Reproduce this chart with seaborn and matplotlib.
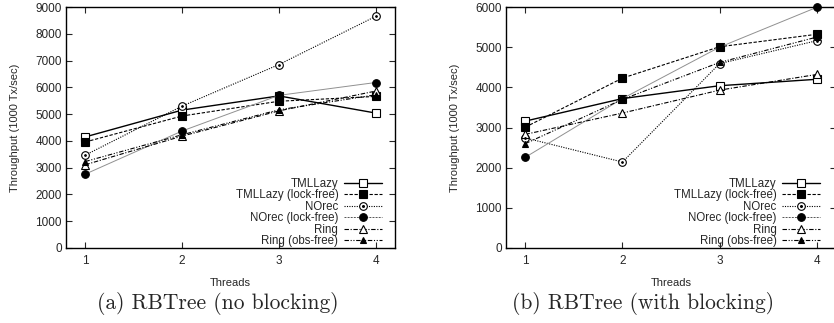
import matplotlib
matplotlib.use("Agg")
import matplotlib.pyplot as plt
import seaborn as sns
import pandas as pd
from matplotlib.legend_handler import HandlerTuple
from matplotlib.lines import Line2D

threads = [1, 2, 3, 4]
series_names = ["TMLLazy", "TMLLazy (lock-free)", "NOrec", "NOrec (lock-free)", "Ring", "Ring (obs-free)"]

# (a) RBTree (no blocking)
a_tmllazy = [4150, 5150, 5680, 5040]
a_tmllazy_lf = [3960, 4930, 5480, 5660]
a_norec = [3470, 5300, 6850, 8650]
a_norec_lf = [2760, 4370, 5700, 6180]
a_ring = [3110, 4180, 5120, 5860]
a_ring_of = [3230, 4230, 5160, 5720]

# (b) RBTree (with blocking)
b_tmllazy = [3160, 3720, 4040, 4200]
b_tmllazy_lf = [3010, 4230, 5010, 5320]
b_norec = [2740, 2140, 4590, 5160]
b_norec_lf = [2260, 3720, 5000, 5990]
b_ring = [2830, 3360, 3930, 4320]
b_ring_of = [2600, 3700, 4620, 5250]

captions = ["(a) RBTree (no blocking)", "(b) RBTree (with blocking)"]
ylims = [9000, 6000]
xlabel = "Threads"
ylabel = "Throughput (1000 Tx/sec)"

sns.set_style("ticks")
plt.rcParams["font.family"] = ["Liberation Sans", "DejaVu Sans"]

styles = {
    "TMLLazy": dict(color="black", ls="-", lw=1.0, marker="s", mfc="white", ms=5.5),
    "TMLLazy (lock-free)": dict(color="black", ls=(0, (3, 1.5)), lw=0.8, marker="s", mfc="black", ms=5.5),
    "NOrec": dict(color="black", ls=(0, (1, 1.2)), lw=0.8, marker="o", mfc="white", ms=5.5),
    "NOrec (lock-free)": dict(color="#909090", ls="-", lw=0.7, marker="o", mfc="black", ms=5.5),
    "Ring": dict(color="black", ls=(0, (4, 1.5, 1, 1.5)), lw=0.8, marker="^", mfc="white", ms=5.5),
    "Ring (obs-free)": dict(color="black", ls=(0, (4, 1.5, 1, 1.5, 1, 1.5)), lw=0.8, marker="^", mfc="black", ms=5.0),
}
legend_ls = {"NOrec (lock-free)": dict(color="#555555", ls=(0, (2, 1.2)))}

fig = plt.figure(figsize=(8.34, 3.23), dpi=100)
ax_a = fig.add_axes([66/834, 1-248/323, 329/834, 241/323])
ax_b = fig.add_axes([506/834, 1-248/323, 330/834, 241/323])

data_sets = [
    [a_tmllazy, a_tmllazy_lf, a_norec, a_norec_lf, a_ring, a_ring_of],
    [b_tmllazy, b_tmllazy_lf, b_norec, b_norec_lf, b_ring, b_ring_of],
]

for ax, dataset, cap, ymax, cx, lx in zip([ax_a, ax_b], data_sets, captions, ylims,
                                          [218/834, 643/834], [0.975, 0.967]):
    handles = []
    for name, vals in zip(series_names, dataset):
        st = styles[name]
        df = pd.DataFrame({"Threads": threads, "Throughput": vals})
        sns.lineplot(data=df, x="Threads", y="Throughput", ax=ax, color=st["color"],
                     linestyle=st["ls"], linewidth=st["lw"], marker=st["marker"],
                     markersize=st["ms"], markerfacecolor=st["mfc"], markeredgecolor="black",
                     markeredgewidth=0.8, zorder=3, clip_on=False)
        if name == "NOrec":
            sns.lineplot(data=df, x="Threads", y="Throughput", ax=ax, color="black",
                         linestyle="none", marker="o", markersize=1.2,
                         markerfacecolor="black", markeredgecolor="black", zorder=4)
        lst = legend_ls.get(name, {})
        h = Line2D([], [], color=lst.get("color", st["color"]), linestyle=lst.get("ls", st["ls"]),
                   linewidth=st["lw"], marker=st["marker"], markersize=st["ms"],
                   markerfacecolor=st["mfc"], markeredgecolor="black", markeredgewidth=0.8)
        if name == "NOrec":
            d = Line2D([], [], linestyle="none", marker="o", markersize=1.2,
                       markerfacecolor="black", markeredgecolor="black")
            h = (h, d)
        handles.append(h)
    ax.set_xlim(0.8, 4.2)
    ax.set_ylim(0, ymax)
    ax.set_xticks(threads)
    ax.set_yticks(range(0, ymax + 1, 1000))
    ax.tick_params(direction="in", length=4, width=0.8, labelsize=8.5, top=True, right=True,
                   labeltop=False, labelright=False, pad=3)
    ax.tick_params(axis="x", pad=5)
    for s in ax.spines.values():
        s.set_visible(True)
        s.set_linewidth(1.0)
        s.set_color("black")
    ax.set_xlabel(xlabel, fontsize=8, labelpad=8)
    ax.set_ylabel(ylabel, fontsize=8, labelpad=11)
    ax.legend(handles=handles, labels=series_names, loc="lower right", frameon=False,
              markerfirst=False, fontsize=8.3, handlelength=3.3, labelspacing=-0.05,
              handletextpad=0.5, borderaxespad=0.0, bbox_to_anchor=(lx, -0.015),
              handler_map={tuple: HandlerTuple(ndivide=1)})
    fig.text(cx, 1 - 309/323, cap, ha="center", va="baseline", family="cmr10", fontsize=15.5)

fig.savefig("out.png", dpi=100)
